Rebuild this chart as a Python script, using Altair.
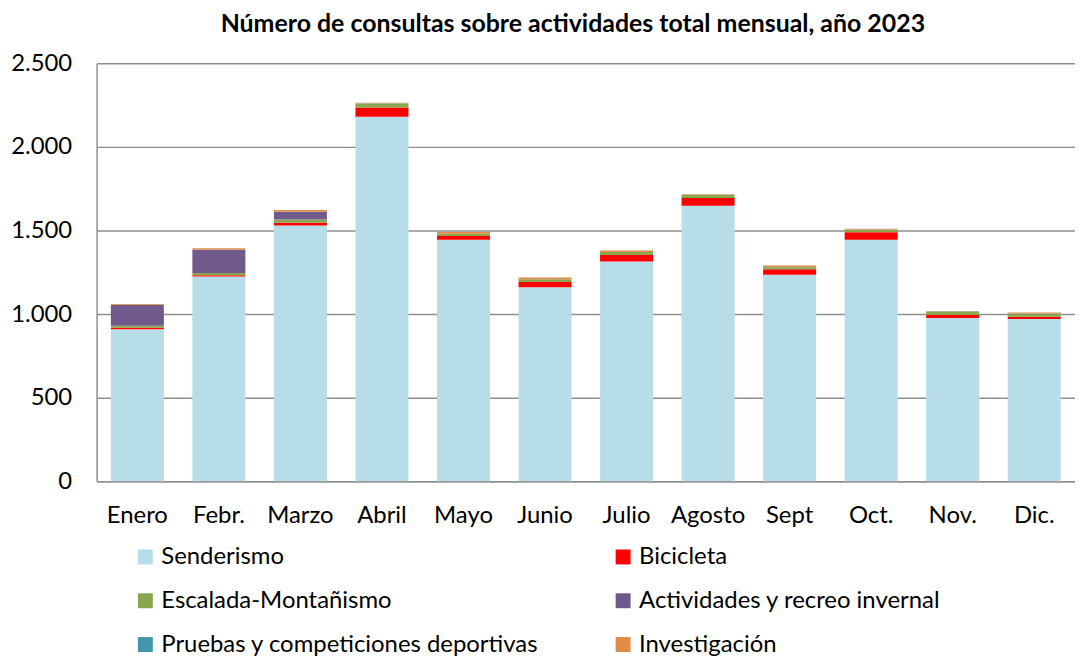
import altair as alt
import pandas as pd

months = ["Enero", "Febr.", "Marzo", "Abril", "Mayo", "Junio", "Julio",
          "Agosto", "Sept", "Oct.", "Nov.", "Dic."]
series = ["Senderismo", "Bicicleta", "Escalada-Montañismo",
          "Actividades y recreo invernal", "Pruebas y competiciones deportivas",
          "Investigación"]
colors = ["#b7dde8", "#ff0000", "#8aa64f", "#705a8c", "#4297ad", "#df8a47"]
# legend reading order (legend fills column by column)
legend_order = [0, 2, 4, 1, 3, 5]

senderismo = [910, 1225, 1530, 2180, 1445, 1160, 1315, 1648, 1236, 1445, 976, 970]
bicicleta = [8, 8, 16, 55, 22, 32, 38, 46, 32, 44, 18, 14]
escalada = [12, 12, 20, 25, 13, 16, 18, 18, 12, 16, 22, 18]
invernal = [125, 139, 45, 0, 0, 0, 0, 0, 0, 0, 0, 0]
pruebas = [1, 1, 1, 1, 1, 1, 1, 1, 1, 1, 1, 1]
investigacion = [5, 8, 10, 3, 10, 10, 8, 3, 10, 5, 2, 6]

values = [senderismo, bicicleta, escalada, invernal, pruebas, investigacion]

rows = []
for si, (name, vals) in enumerate(zip(series, values)):
    for m, v in zip(months, vals):
        rows.append({"mes": m, "serie": name, "valor": v, "idx": si})
df = pd.DataFrame(rows)

FONT = "Lato"
dom = [series[i] for i in legend_order]
rng = [colors[i] for i in legend_order]

chart = alt.Chart(df).mark_bar().encode(
    x=alt.X("mes:N", sort=months, title=None,
            scale=alt.Scale(paddingInner=0.35, paddingOuter=0.175),
            axis=alt.Axis(labelAngle=0, labelFontSize=24, labelFont=FONT,
                          labelColor="#000000", labelPadding=22, ticks=False,
                          domainColor="#8f8f8f", domainWidth=1.5, grid=False)),
    y=alt.Y("valor:Q", stack="zero", title=None,
            scale=alt.Scale(domain=[0, 2500], nice=False),
            axis=alt.Axis(values=[0, 500, 1000, 1500, 2000, 2500],
                          labelExpr="replace(format(datum.value, ','), ',', '.')",
                          labelFontSize=24, labelFont=FONT, labelColor="#000000",
                          labelPadding=25, ticks=False,
                          domainColor="#8f8f8f", domainWidth=1.5,
                          gridColor="#8f8f8f", gridWidth=1.5)),
    color=alt.Color("serie:N",
                    scale=alt.Scale(domain=dom, range=rng),
                    legend=alt.Legend(title=None, orient="none", legendX=37, legendY=484,
                                      columns=2, columnPadding=72, rowPadding=20,
                                      symbolType="square", symbolSize=225,
                                      symbolStrokeWidth=0, labelFontSize=24,
                                      labelFont=FONT, labelColor="#000000",
                                      labelLimit=700, labelOffset=4)),
    order=alt.Order("idx:Q", sort="ascending"),
).properties(
    width=983, height=420,
    title=alt.TitleParams("Número de consultas sobre actividades total mensual, año 2023",
                          fontSize=25, font=FONT, fontWeight="bold", color="#000000",
                          anchor="middle", dx=-13, offset=14),
    padding={"left": 89, "top": 54, "right": 0, "bottom": 177},
    autosize=alt.AutoSizeParams(type="none"),
).configure_view(stroke=None)

chart.save("out.html", embed_options={"renderer": "svg", "actions": False})
